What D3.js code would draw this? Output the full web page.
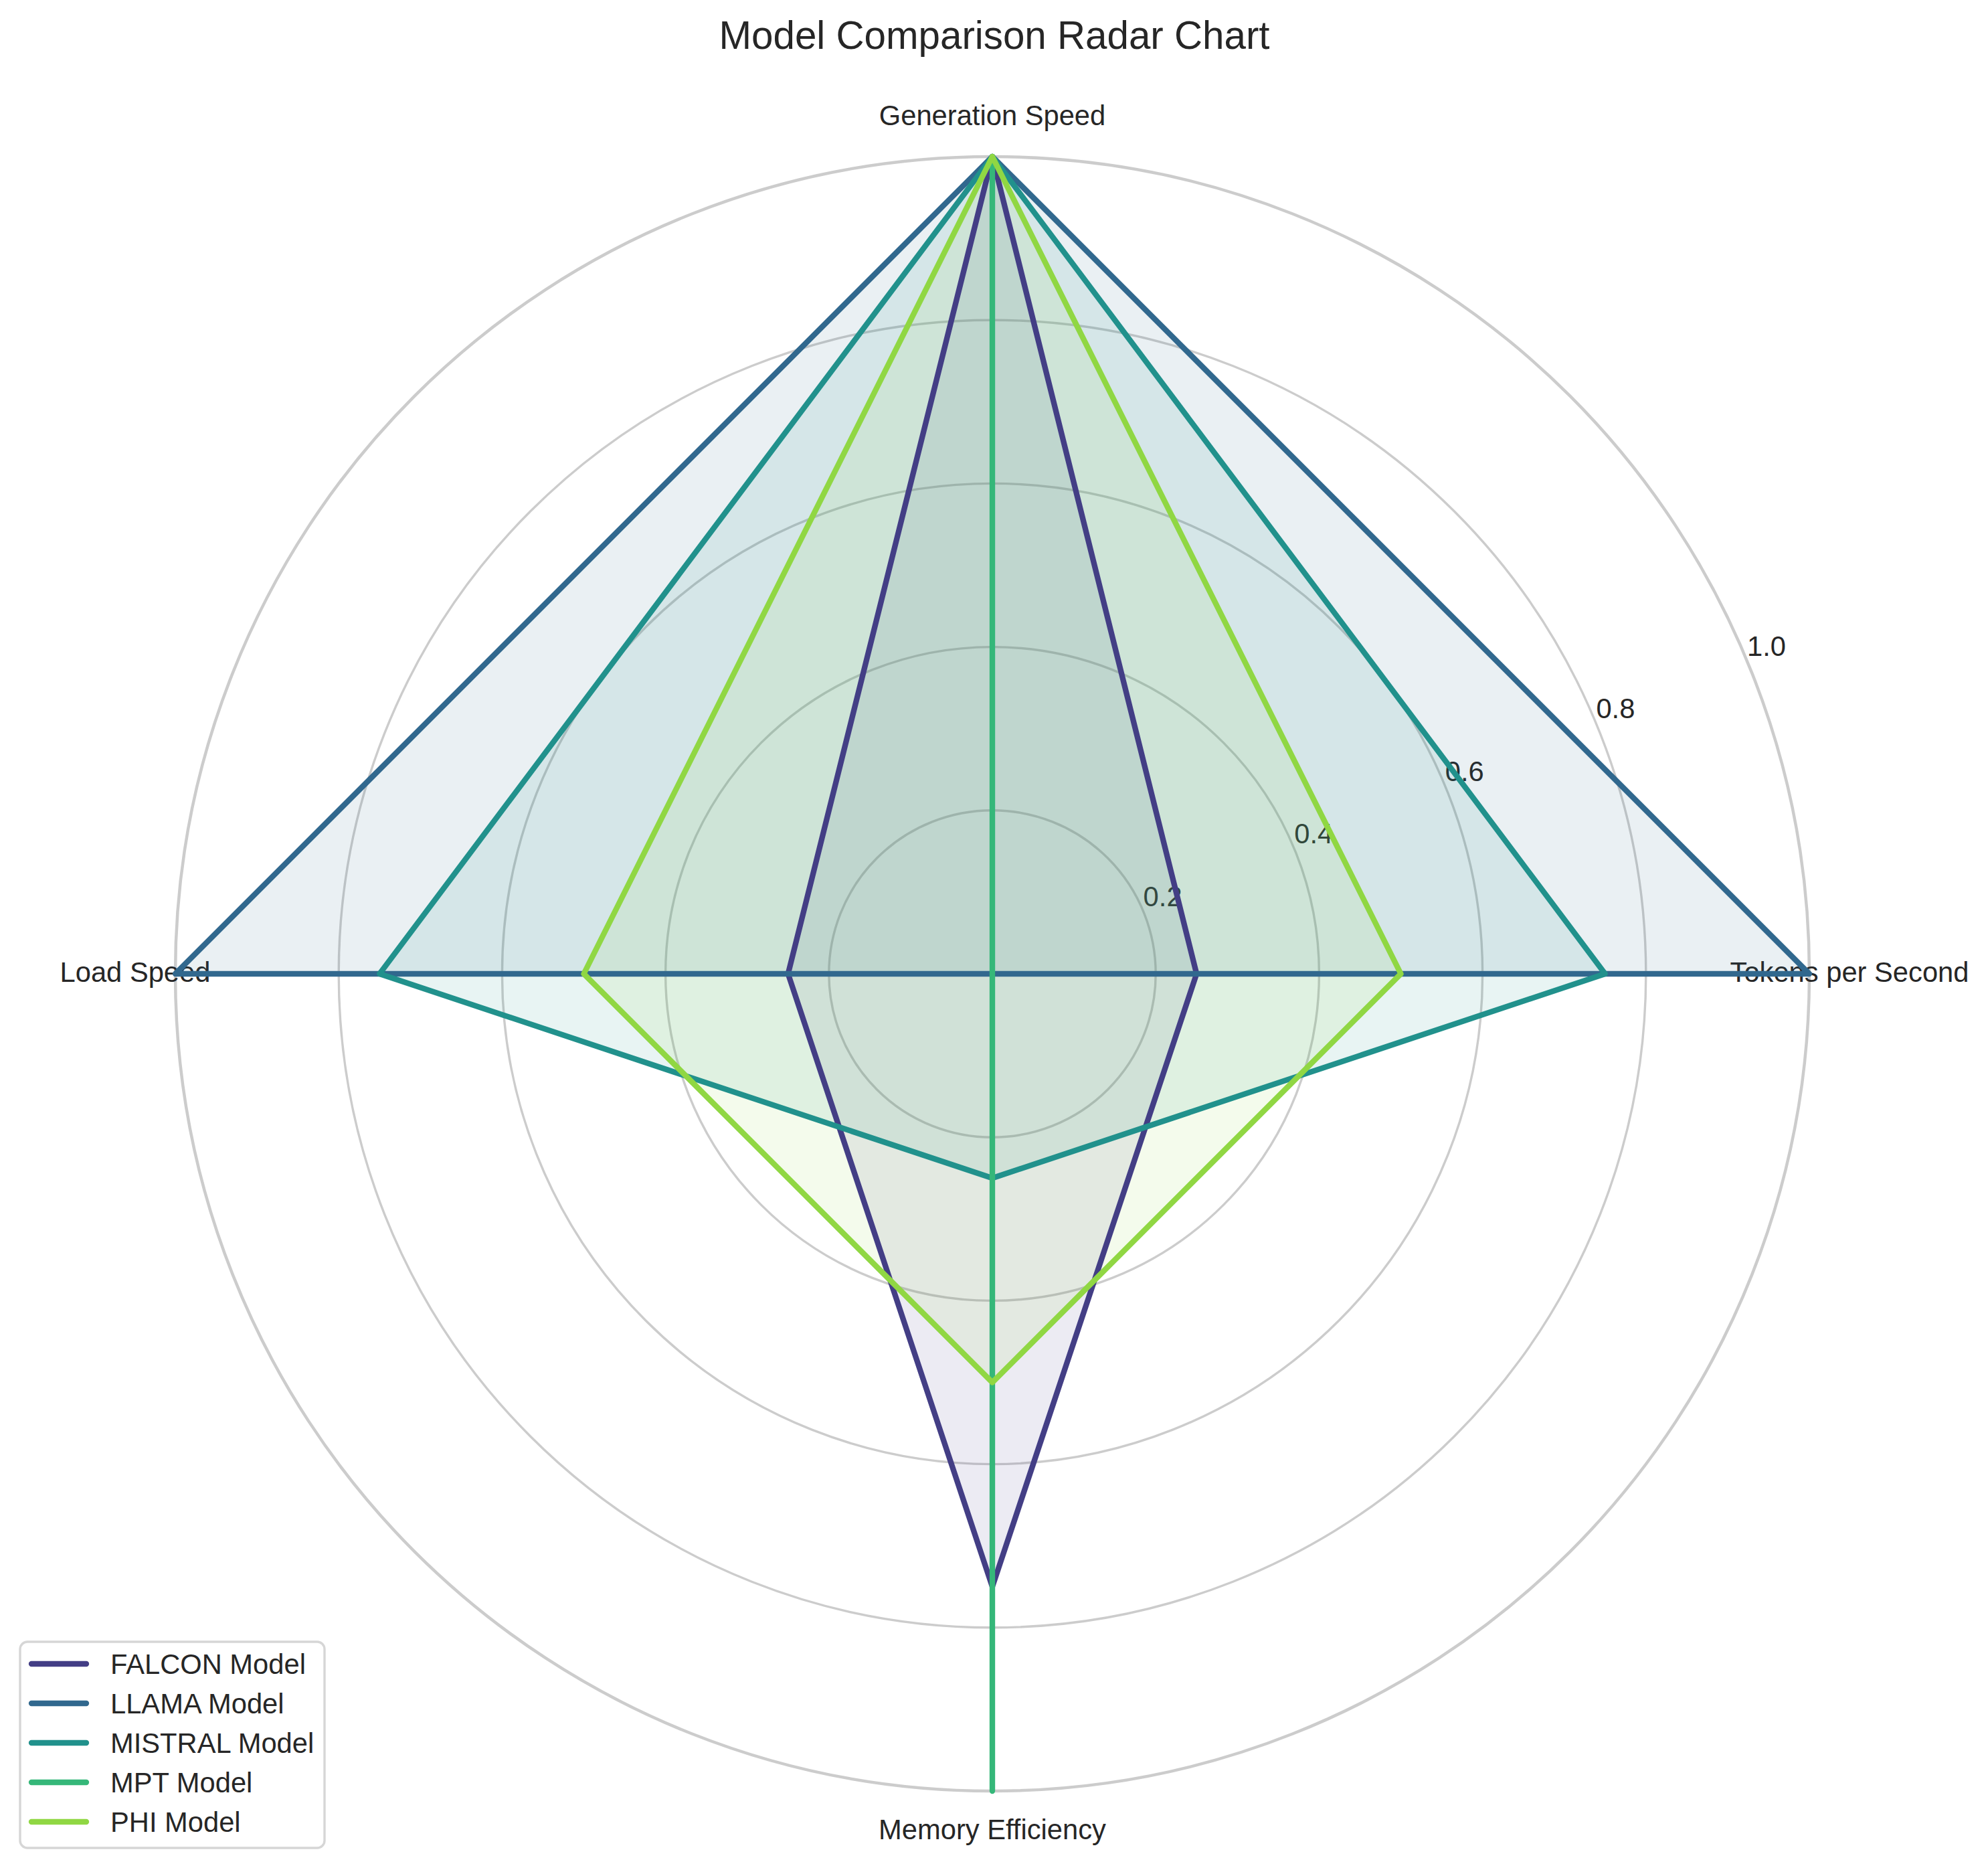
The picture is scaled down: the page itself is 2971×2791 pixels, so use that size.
<!DOCTYPE html>
<html>
<head>
<meta charset="utf-8">
<script src="https://cdn.jsdelivr.net/npm/d3@7"></script>
<style>
  html, body { margin: 0; padding: 0; background: #ffffff; }
  svg { display: block; }
  text { font-family: "Liberation Sans", Arial, "DejaVu Sans", sans-serif; fill: #262626; }
</style>
</head>
<body>
<svg id="chart" width="2971" height="2791"></svg>
<script>
// ---- data ----
const categories = ["Tokens per Second", "Generation Speed", "Load Speed", "Memory Efficiency"];
const models = ["FALCON Model", "LLAMA Model", "MISTRAL Model", "MPT Model", "PHI Model"];
const falconValues  = [0.25, 1.0, 0.25, 0.75];
const llamaValues   = [1.0, 1.0, 1.0, 0.0];
const mistralValues = [0.75, 1.0, 0.75, 0.25];
const mptValues     = [0.0, 1.0, 0.0, 1.0];
const phiValues     = [0.5, 1.0, 0.5, 0.5];
const seriesValues = [falconValues, llamaValues, mistralValues, mptValues, phiValues];
const radialTicks = [0.2, 0.4, 0.6, 0.8, 1.0];
const modelColors = ["#433e85", "#31688e", "#21918c", "#35b779", "#90d743"];
const chartTitle = "Model Comparison Radar Chart";

// ---- layout ----
const W = 2971, H = 2791;
const cx = 1483, cy = 1455, R = 1221;
const fontSmall = 41.7, fontTitle = 58.3;

const svg = d3.select("#chart");
svg.append("rect").attr("width", W).attr("height", H).attr("fill", "#ffffff");

const r = d3.scaleLinear().domain([0, 1]).range([0, R]);
const mathAngle = d3.scaleLinear().domain([0, categories.length]).range([0, 2 * Math.PI]);
const d3Angle = i => Math.PI / 2 - mathAngle(i);

const g = svg.append("g").attr("transform", `translate(${cx},${cy})`);

// grid circles
g.selectAll("circle.grid")
  .data(radialTicks)
  .join("circle")
  .attr("class", "grid")
  .attr("r", d => r(d))
  .attr("fill", "none")
  .attr("stroke", "#cccccc")
  .attr("stroke-width", d => d === 1 ? 4.5 : 3.4);

// spokes
g.selectAll("line.spoke")
  .data(categories)
  .join("line")
  .attr("class", "spoke")
  .attr("x1", 0).attr("y1", 0)
  .attr("x2", (d, i) => r(1) * Math.cos(mathAngle(i)))
  .attr("y2", (d, i) => -r(1) * Math.sin(mathAngle(i)))
  .attr("stroke", "#cccccc")
  .attr("stroke-width", 3.4);

// radial tick labels at 22.5 degrees
const rlabA = 22.5 * Math.PI / 180;
g.selectAll("text.rtick")
  .data(radialTicks)
  .join("text")
  .attr("class", "rtick")
  .attr("x", d => r(d) * Math.cos(rlabA) + 0)
  .attr("y", d => -r(d) * Math.sin(rlabA) - 8)
  .attr("text-anchor", "start")
  .attr("font-size", fontSmall)
  .text(d => d.toFixed(1));

// category labels
const pad = 60;
g.selectAll("text.cat")
  .data(categories)
  .join("text")
  .attr("class", "cat")
  .attr("x", (d, i) => (r(1) + pad) * Math.cos(mathAngle(i)))
  .attr("y", (d, i) => {
    const s = Math.sin(mathAngle(i));
    return -(r(1) + pad) * s + 12 + (s > 0.5 ? 1 : 0);
  })
  .attr("text-anchor", "middle")
  .attr("font-size", fontSmall)
  .text(d => d);

// radial line generator
const radar = d3.lineRadial()
  .angle((d, i) => d3Angle(i))
  .radius(d => r(d))
  .curve(d3.curveLinearClosed);

// fills first (patches below lines)
g.selectAll("path.fill")
  .data(seriesValues)
  .join("path")
  .attr("class", "fill")
  .attr("d", d => radar(d))
  .attr("fill", (d, i) => modelColors[i])
  .attr("fill-opacity", 0.1)
  .attr("stroke", "none");

// lines
g.selectAll("path.line")
  .data(seriesValues)
  .join("path")
  .attr("class", "line")
  .attr("d", d => radar(d))
  .attr("fill", "none")
  .attr("stroke", (d, i) => modelColors[i])
  .attr("stroke-width", 8.33)
  .attr("stroke-linejoin", "round");

// title
svg.append("text")
  .attr("x", 1486).attr("y", 73)
  .attr("text-anchor", "middle")
  .attr("font-size", fontTitle)
  .text(chartTitle);

// legend
const lg = svg.append("g");
lg.append("rect")
  .attr("x", 30).attr("y", 2453)
  .attr("width", 455).attr("height", 308)
  .attr("rx", 11).attr("ry", 11)
  .attr("fill", "#ffffff").attr("fill-opacity", 0.8)
  .attr("stroke", "#d6d6d6").attr("stroke-width", 3.4);
const legendY = d3.scaleLinear().domain([0, 1]).range([2486, 2545]);
const items = lg.selectAll("g.item")
  .data(models)
  .join("g")
  .attr("class", "item")
  .attr("transform", (d, i) => `translate(0,${legendY(i)})`);
items.append("line")
  .attr("x1", 47).attr("x2", 129)
  .attr("y1", 0).attr("y2", 0)
  .attr("stroke", (d, i) => modelColors[i])
  .attr("stroke-width", 8.33)
  .attr("stroke-linecap", "round");
items.append("text")
  .attr("x", 165).attr("y", 15)
  .attr("font-size", fontSmall)
  .text(d => d);
</script>
</body>
</html>
